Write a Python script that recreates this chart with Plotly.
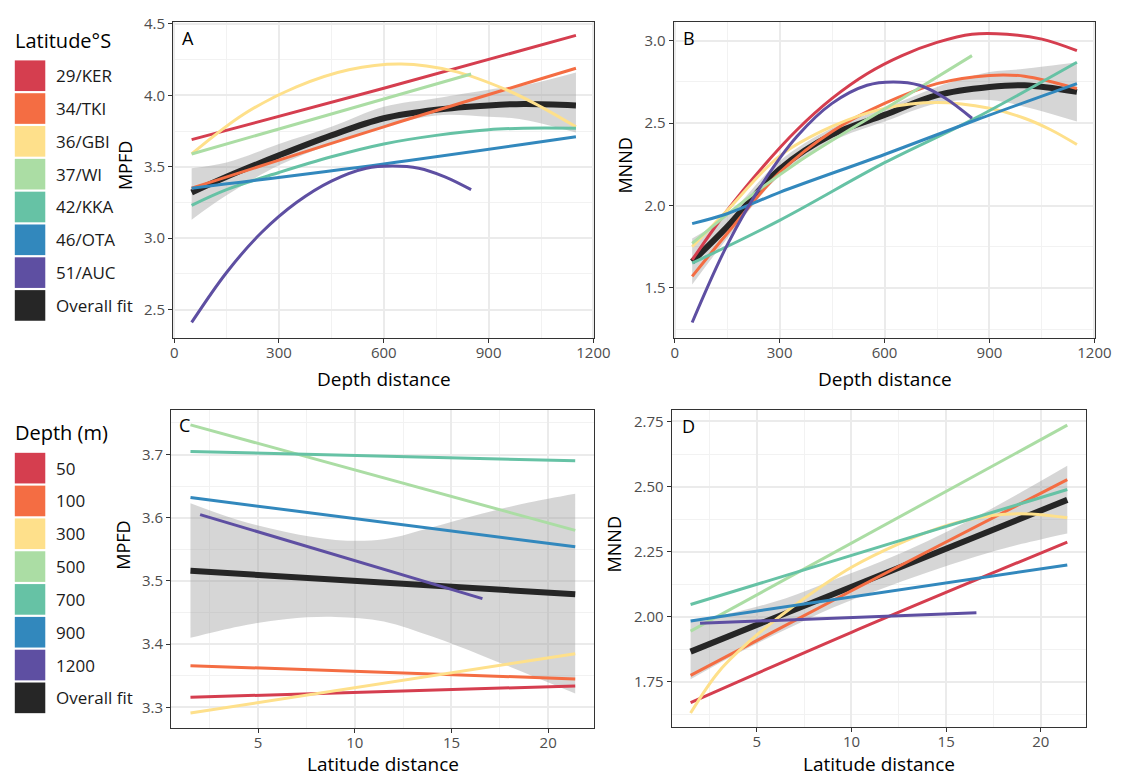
import plotly.graph_objects as go

# ---------------- data ----------------
lat_groups = ["29/KER", "34/TKI", "36/GBI", "37/WI", "42/KKA", "46/OTA", "51/AUC"]
depth_groups = ["50", "100", "300", "500", "700", "900", "1200"]
group_colors = ["#D53E4F", "#F46D43", "#FEE08B", "#ABDDA4", "#66C2A5", "#3288BD", "#5E4FA2"]
overall_label = "Overall fit"
overall_color = "#262626"

# Panel A: MPFD vs depth distance (one curve per latitude site)
a_x = [
    [50, 600, 1150],
    [50, 600, 1150],
    [50, 200, 350, 500, 650, 800, 950, 1050, 1150],
    [50, 450, 850],
    [50, 150, 300, 450, 600, 750, 900, 1000, 1150],
    [50, 600, 1150],
    [50, 150, 250, 350, 450, 550, 625, 700, 775, 850],
]
a_y = [
    [3.69, 4.05, 4.42],
    [3.35, 3.78, 4.19],
    [3.59, 3.87, 4.06, 4.18, 4.22, 4.17, 4.04, 3.92, 3.78],
    [3.59, 3.87, 4.15],
    [3.23, 3.34, 3.46, 3.57, 3.66, 3.72, 3.76, 3.77, 3.77],
    [3.35, 3.52, 3.71],
    [2.41, 2.76, 3.04, 3.25, 3.40, 3.49, 3.505, 3.49, 3.43, 3.34],
]
a_fit_x = [50, 150, 300, 450, 600, 750, 900, 1000, 1150]
a_fit_y = [3.32, 3.43, 3.58, 3.72, 3.84, 3.90, 3.93, 3.94, 3.93]
a_fit_lo = [3.13, 3.30, 3.51, 3.66, 3.78, 3.86, 3.85, 3.83, 3.74]
a_fit_hi = [3.49, 3.53, 3.66, 3.78, 3.92, 3.98, 4.04, 4.07, 4.16]

# Panel B: MNND vs depth distance
b_x = [
    [50, 150, 250, 350, 450, 550, 650, 750, 850, 950, 1050, 1150],
    [50, 150, 300, 450, 600, 750, 900, 1000, 1150],
    [50, 150, 300, 450, 600, 750, 900, 1000, 1075, 1150],
    [50, 200, 350, 500, 650, 850],
    [50, 300, 600, 850, 1150],
    [50, 150, 300, 600, 850, 1150],
    [50, 150, 250, 350, 450, 550, 625, 700, 775, 850],
]
b_y = [
    [1.67, 1.97, 2.23, 2.46, 2.65, 2.80, 2.91, 2.99, 3.04, 3.04, 3.01, 2.94],
    [1.57, 1.83, 2.20, 2.45, 2.62, 2.74, 2.79, 2.785, 2.71],
    [1.75, 1.97, 2.30, 2.48, 2.59, 2.625, 2.59, 2.53, 2.46, 2.37],
    [1.77, 2.03, 2.26, 2.46, 2.65, 2.91],
    [1.65, 1.91, 2.26, 2.52, 2.87],
    [1.89, 1.95, 2.08, 2.31, 2.51, 2.74],
    [1.29, 1.76, 2.13, 2.42, 2.62, 2.73, 2.75, 2.73, 2.65, 2.53],
]
b_fit_x = [50, 150, 300, 450, 600, 750, 900, 1000, 1150]
b_fit_y = [1.66, 1.87, 2.22, 2.43, 2.55, 2.67, 2.72, 2.73, 2.69]
b_fit_lo = [1.52, 1.80, 2.18, 2.39, 2.51, 2.62, 2.64, 2.60, 2.51]
b_fit_hi = [1.80, 1.94, 2.27, 2.47, 2.59, 2.72, 2.81, 2.83, 2.87]

# Panel C: MPFD vs latitude distance (one line per depth)
c_x = [
    [1.5, 21.4], [1.5, 21.4], [1.5, 21.4], [1.5, 21.4],
    [1.5, 21.4], [1.5, 21.4], [2.0, 16.6],
]
c_y = [
    [3.316, 3.334],
    [3.366, 3.345],
    [3.291, 3.385],
    [3.747, 3.580],
    [3.705, 3.690],
    [3.632, 3.554],
    [3.605, 3.472],
]
c_fit_x = [1.5, 21.4]
c_fit_y = [3.516, 3.479]
c_band_x = [1.5, 4, 6.5, 9, 11.5, 14, 16.5, 19, 21.4]
c_band_lo = [3.410, 3.428, 3.440, 3.443, 3.436, 3.412, 3.383, 3.352, 3.322]
c_band_hi = [3.623, 3.596, 3.577, 3.565, 3.566, 3.585, 3.606, 3.624, 3.638]

# Panel D: MNND vs latitude distance
d_x = [
    [1.5, 10, 21.4],
    [1.5, 10, 21.4],
    [1.5, 3, 5, 7.5, 10, 12.5, 15, 17.5, 19.5, 21.4],
    [1.5, 21.4],
    [1.5, 21.4],
    [1.5, 21.4],
    [2.0, 16.6],
]
d_y = [
    [1.670, 1.94, 2.287],
    [1.775, 2.10, 2.527],
    [1.63, 1.79, 1.93, 2.07, 2.19, 2.28, 2.35, 2.39, 2.395, 2.38],
    [1.945, 2.736],
    [2.047, 2.489],
    [1.984, 2.199],
    [1.975, 2.015],
]
d_fit_x = [1.5, 21.4]
d_fit_y = [1.866, 2.449]
d_band_x = [1.5, 4, 6.5, 9, 11.5, 14, 16.5, 19, 21.4]
d_band_lo = [1.76, 1.86, 1.95, 2.035, 2.105, 2.17, 2.23, 2.28, 2.32]
d_band_hi = [1.98, 2.02, 2.07, 2.14, 2.21, 2.29, 2.38, 2.48, 2.58]

# ---------------- figure ----------------
W, H = 1139, 779
FONT = "Open Sans"
BAND = "rgba(153,153,153,0.4)"


def pxx(x):
    return x / W


def pxy(y):
    return 1 - y / H


fig = go.Figure()


def add_panel(xa, ya, xs, ys, fx, fy, bx, blo, bhi):
    # confidence band of overall fit
    fig.add_trace(go.Scatter(x=bx, y=blo, mode="lines", line=dict(width=0, shape="spline"),
                             xaxis=xa, yaxis=ya, showlegend=False, hoverinfo="skip"))
    fig.add_trace(go.Scatter(x=bx, y=bhi, mode="lines", line=dict(width=0, shape="spline"),
                             fill="tonexty", fillcolor=BAND,
                             xaxis=xa, yaxis=ya, showlegend=False, hoverinfo="skip"))
    # overall fit
    fig.add_trace(go.Scatter(x=fx, y=fy, mode="lines",
                             line=dict(color=overall_color, width=6, shape="spline"),
                             xaxis=xa, yaxis=ya, showlegend=False, name=overall_label))
    # group fits
    for i in range(len(xs)):
        fig.add_trace(go.Scatter(x=xs[i], y=ys[i], mode="lines",
                                 line=dict(color=group_colors[i], width=3, shape="spline"),
                                 xaxis=xa, yaxis=ya, showlegend=False))


add_panel("x", "y", a_x, a_y, a_fit_x, a_fit_y, a_fit_x, a_fit_lo, a_fit_hi)
add_panel("x2", "y2", b_x, b_y, b_fit_x, b_fit_y, b_fit_x, b_fit_lo, b_fit_hi)
add_panel("x3", "y3", c_x, c_y, c_fit_x, c_fit_y, c_band_x, c_band_lo, c_band_hi)
add_panel("x4", "y4", d_x, d_y, d_fit_x, d_fit_y, d_band_x, d_band_lo, d_band_hi)

axis_common = dict(
    showline=True, linecolor="#333333", linewidth=1, mirror=True,
    ticks="outside", ticklen=4, tickcolor="#333333", tickwidth=1,
    showgrid=True, gridcolor="#EBEBEB", gridwidth=1.6, zeroline=False,
    tickfont=dict(family=FONT, size=15, color="#4D4D4D"),
)
x_extra = dict(ticklabelstandoff=-3)


def minor(dt):
    return dict(dtick=dt, tick0=0, showgrid=True, gridcolor="#F2F2F2", gridwidth=0.8, ticks="")


top_dom = [pxy(333), pxy(13)]
bot_dom_c = [pxy(727), pxy(406)]
bot_dom_d = [pxy(726), pxy(406)]

fig.update_layout(
    width=W, height=H, margin=dict(l=0, r=0, t=0, b=0),
    paper_bgcolor="white", plot_bgcolor="white", showlegend=False,
    font=dict(family=FONT, color="#000000"),
    xaxis=dict(axis_common, **x_extra, domain=[pxx(173), pxx(601.5)], range=[-3, 1203],
               tickvals=[0, 300, 600, 900, 1200], minor=minor(150), anchor="y"),
    yaxis=dict(axis_common, domain=top_dom, range=[2.30, 4.515], dtick=0.5, tick0=0,
               tickformat=".1f", minor=minor(0.25), anchor="x"),
    xaxis2=dict(axis_common, **x_extra, domain=[pxx(682), pxx(1111)], range=[-3, 1203],
                tickvals=[0, 300, 600, 900, 1200], minor=minor(150), anchor="y2"),
    yaxis2=dict(axis_common, domain=top_dom, range=[1.195, 3.115], dtick=0.5, tick0=0,
                tickformat=".1f", minor=minor(0.25), anchor="x2"),
    xaxis3=dict(axis_common, **x_extra, domain=[pxx(171), pxx(601)], range=[0.5, 22.37],
                dtick=5, tick0=0, minor=minor(2.5), anchor="y3"),
    yaxis3=dict(axis_common, domain=bot_dom_c, range=[3.268, 3.770], dtick=0.1, tick0=0,
                tickformat=".1f", minor=minor(0.05), anchor="x3"),
    xaxis4=dict(axis_common, **x_extra, domain=[pxx(680), pxx(1101)], range=[0.5, 22.37],
                dtick=5, tick0=0, minor=minor(2.5), anchor="y4"),
    yaxis4=dict(axis_common, domain=bot_dom_d, range=[1.578, 2.793], dtick=0.25, tick0=0,
                tickformat=".2f", minor=minor(0.125), anchor="x4"),
)

annotations = []
shapes = []


def text(x, y, s, size, xanchor="center", angle=0, color="#000000"):
    annotations.append(dict(x=pxx(x), y=pxy(y), xref="paper", yref="paper", text=s,
                            showarrow=False, xanchor=xanchor, yanchor="middle",
                            textangle=angle, font=dict(family=FONT, size=size, color=color)))


# panel letters
text(180, 29, "A", 18, "left")
text(690, 29, "B", 18, "left")
text(177, 421, "C", 18, "left")
text(688, 422, "D", 18, "left")

# axis titles
text(387, 374, "Depth distance", 19)
text(897, 374, "Depth distance", 19)
text(386, 764, "Latitude distance", 19)
text(891, 764, "Latitude distance", 19)
text(124, 158, "MPFD", 18, angle=-90)
text(633, 158, "MNND", 18, angle=-90)
text(122, 542, "MPFD", 18, angle=-90)
text(621, 542, "MNND", 18, angle=-90)


def legend_block(title, labels, title_y, first_top):
    text(10, title_y, title, 20, "left")
    step = 33.2
    entries = list(zip(labels, group_colors)) + [(overall_label, overall_color)]
    for i, (lab, col) in enumerate(entries):
        top = first_top + i * step
        shapes.append(dict(type="rect", xref="paper", yref="paper",
                           x0=pxx(12), x1=pxx(43), y0=pxy(top + 31), y1=pxy(top),
                           fillcolor=col, line=dict(width=0)))
        text(52, top + 15.5, lab, 17, "left", color="#1A1A1A")


legend_block("Latitude°S", lat_groups, 32, 52)
legend_block("Depth (m)", depth_groups, 428, 449)

fig.update_layout(annotations=annotations, shapes=shapes)
fig.write_html("out.html")
